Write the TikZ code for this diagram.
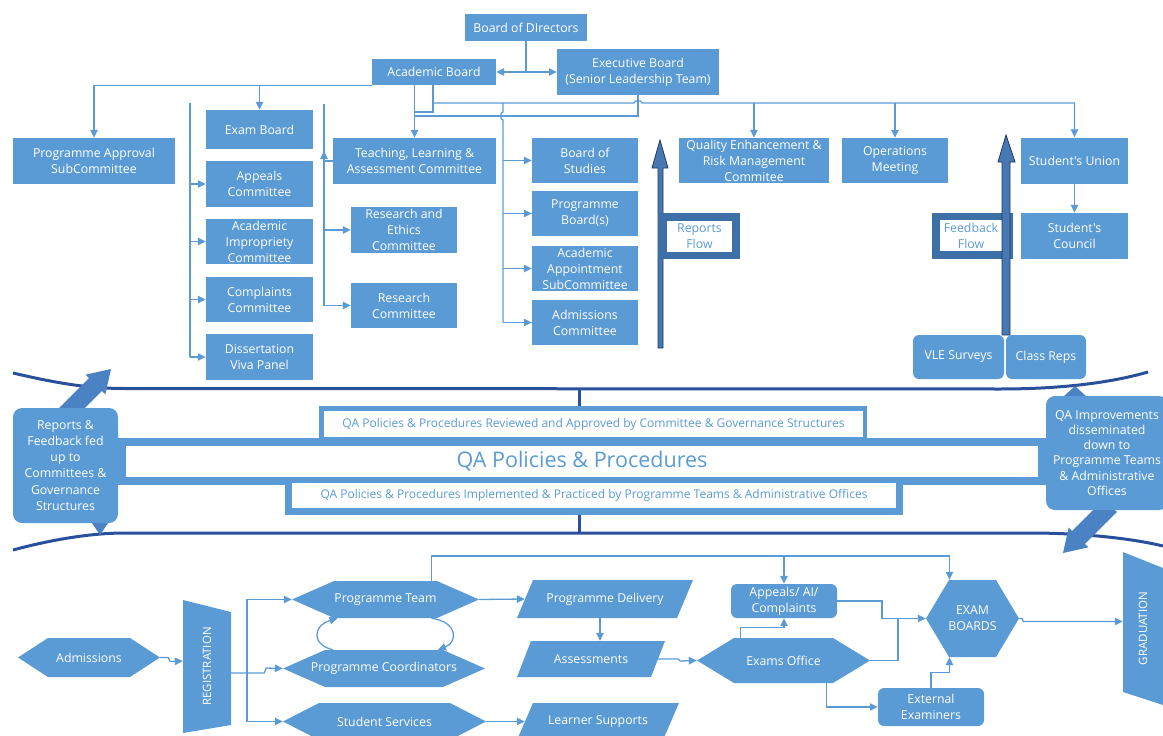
\documentclass[tikz,border=0pt]{standalone}
\usepackage{fontspec}
\setmainfont{Open Sans}[Ligatures=TeXOff]
\usepackage{graphicx}
\usetikzlibrary{arrows.meta}
\definecolor{mblue}{RGB}{91,155,213}
\definecolor{navy}{RGB}{40,80,155}
\definecolor{fatblue}{RGB}{75,130,195}
\definecolor{flowfill}{RGB}{70,120,180}
\definecolor{flowedge}{RGB}{35,55,95}
\definecolor{frameblue}{RGB}{62,112,168}
\tikzset{
  lab/.style={font=\fontsize{12.3}{16}\selectfont},
  box/.style={fill=mblue, text=white, align=center, inner sep=0pt, lab},
  rbox/.style={box, rounded corners=6pt},
  callout/.style={box, rounded corners=9pt},
  conn/.style={draw=mblue, line width=1.3pt},
  arr/.style={conn, -{Triangle[length=8pt,width=7.5pt]}},
  curve/.style={draw=navy, line width=3pt},
  qatext/.style={fill=white, text=mblue, inner sep=0pt, font=\fontsize{12}{14}\selectfont},
  hexa/.style={text=white, align=center, inner sep=0pt, lab,
    path picture={\fill[mblue] (path picture bounding box.west)
      -- ([xshift=#1]path picture bounding box.north west)
      -- ([xshift=-#1]path picture bounding box.north east)
      -- (path picture bounding box.east)
      -- ([xshift=-#1]path picture bounding box.south east)
      -- ([xshift=#1]path picture bounding box.south west) -- cycle;}},
  para/.style={text=white, align=center, inner sep=0pt, lab,
    path picture={\fill[mblue] (path picture bounding box.south west)
      -- ([xshift=-#1]path picture bounding box.south east)
      -- (path picture bounding box.north east)
      -- ([xshift=#1]path picture bounding box.north west) -- cycle;}},
  regq/.style={text=white, inner sep=0pt, font=\fontsize{11.5}{14}\selectfont,
    path picture={\fill[mblue] (path picture bounding box.north west)
      -- ([yshift=-12]path picture bounding box.north east)
      -- ([yshift=8]path picture bounding box.south east)
      -- (path picture bounding box.south west) -- cycle;}},
  gradq/.style={text=white, inner sep=0pt, font=\fontsize{11.5}{14}\selectfont,
    path picture={\fill[mblue] (path picture bounding box.north west)
      -- ([yshift=-16]path picture bounding box.north east)
      -- (path picture bounding box.south east)
      -- ([yshift=13]path picture bounding box.south west) -- cycle;}},
}
\begin{document}
\begin{tikzpicture}[x=1pt,y=-1pt]
\useasboundingbox (0,0) rectangle (1163,736);

% ---------- top governance structure ----------
\node[box, minimum width=122pt, minimum height=27pt] (bod) at (526,27.5) {Board of DIrectors};
\node[box, minimum width=124pt, minimum height=26pt] (ab) at (434,72) {Academic Board};
\node[box, minimum width=162pt, minimum height=46pt] (eb) at (638,72) {Executive Board\\(Senior Leadership Team)};

\node[box, minimum width=162pt, minimum height=46pt] (pa) at (94,161) {Programme Approval\\SubCommittee};
\node[box, minimum width=107pt, minimum height=39pt] (exb) at (259.5,129.5) {Exam Board};
\node[box, minimum width=107pt, minimum height=46pt] (appc) at (259.5,184) {Appeals\\Committee};
\node[box, minimum width=107pt, minimum height=45pt] (aic) at (259.5,241.5) {Academic\\Impropriety\\Committee};
\node[box, minimum width=107pt, minimum height=45pt] (cc) at (259.5,299.5) {Complaints\\Committee};
\node[box, minimum width=107pt, minimum height=46pt] (dvp) at (259.5,357) {Dissertation\\Viva Panel};
\node[box, minimum width=163pt, minimum height=46pt] (tla) at (414.5,161) {Teaching, Learning \&\\Assessment Committee};
\node[box, minimum width=106pt, minimum height=46pt] (re) at (404,230) {Research and\\Ethics\\Committee};
\node[box, minimum width=106pt, minimum height=45pt] (rc) at (404,305.5) {Research\\Committee};
\node[box, minimum width=106pt, minimum height=45pt] (bos) at (585,160.5) {Board of\\Studies};
\node[box, minimum width=106pt, minimum height=45pt] (pb) at (585,213.5) {Programme\\Board(s)};
\node[box, minimum width=106pt, minimum height=45pt] (aa) at (585,268.5) {Academic\\Appointment\\SubCommittee};
\node[box, minimum width=106pt, minimum height=45pt] (ac) at (585,322.5) {Admissions\\Committee};
\node[box, minimum width=150pt, minimum height=45pt] (qe) at (754,160.5) {Quality Enhancement \&\\Risk Management\\Commitee};
\node[box, minimum width=106pt, minimum height=45pt] (ops) at (895,160.5) {Operations\\Meeting};
\node[box, minimum width=107pt, minimum height=46pt] (su) at (1074.5,160.5) {Student's Union};
\node[box, minimum width=107pt, minimum height=46pt] (sc) at (1074.5,236) {Student's\\Council};
\node[rbox, minimum width=91pt, minimum height=44pt] (vle) at (958.5,357) {VLE Surveys};
\node[rbox, minimum width=80pt, minimum height=44pt] (cr) at (1046,357) {Class Reps};

% connectors top
\draw[conn] (bod.south) -- (bod.south |- ab.east) coordinate (j1);
\draw[arr] (j1) -- (ab.east);
\draw[arr] (j1) -- (eb.west);
\draw[arr] (ab.south west) -| (pa.north);
\draw[arr] (ab.south west -| exb.north) -- (exb.north);
\draw[arr] (ab.south -| tla.north) -- (tla.north);
\coordinate (abr) at (433,85);
\coordinate (L103) at (0,103);
\draw[conn] (abr) -- (433,112) -- (414.5,112);
\draw[arr] (433,103) -- (634,103) to[out=90,in=90] (642,103) -- (su.north |- L103) -- (su.north);
\draw[arr] (qe.north |- L103) -- (qe.north);
\draw[arr] (ops.north |- L103) -- (ops.north);
\draw[conn] (eb.south) -- (638,116) -- (414.5,116);
\coordinate (V503) at (503,103);
\draw[conn] (V503) -- (503,112) to[out=180,in=180] (503,120) -- (503,322.5);
\draw[arr] (bos.west -| V503) -- (bos.west);
\draw[arr] (pb.west -| V503) -- (pb.west);
\draw[arr] (aa.west -| V503) -- (aa.west);
\draw[arr] (ac.west -| V503) -- (ac.west);
\coordinate (V190) at (190,103);
\draw[conn] (V190) -- (190,357);
\draw[arr] (appc.west -| V190) -- (appc.west);
\draw[arr] (aic.west -| V190) -- (aic.west);
\draw[arr] (cc.west -| V190) -- (cc.west);
\draw[arr] (dvp.west -| V190) -- (dvp.west);
\coordinate (V324) at (324,104);
\draw[arr] (V324) |- (rc.west);
\draw[arr] (re.west -| V324) -- (re.west);
\draw[arr] (tla.west) -- (tla.west -| V324) -- ++(0,-10);
\draw[arr] (su.south) -- (sc.north);

% flow arrows
\draw[flowedge, fill=flowfill, line width=0.8pt] (658,348) -- (658,168) -- (652,168) -- (660,140) -- (668,168) -- (663,168) -- (663,348) -- cycle;
\fill[frameblue] (658,213) rectangle (740,259);
\node[fill=white, minimum width=65pt, minimum height=31pt, inner sep=0pt, text=mblue, align=center, lab] (rflow) at (699.5,236.5) {Reports\\Flow};
\fill[frameblue] (932,213) rectangle (1013,259);
\node[fill=white, minimum width=62pt, minimum height=31pt, inner sep=0pt, text=mblue, align=center, lab] (fflow) at (971,235.5) {Feedback\\Flow};
\draw[flowedge, fill=flowfill, line width=0.8pt] (1002,335) -- (1002,162) -- (998,162) -- (1006,135) -- (1015,162) -- (1010,162) -- (1010,335) -- cycle;

% ---------- middle band ----------
\draw[curve] (13,373) .. controls (60,384) and (90,388.5) .. (125,388.5) -- (1000,389) .. controls (1060,389) and (1110,383) .. (1148,372);
\draw[curve] (13,550) .. controls (50,540) and (90,533) .. (125,533) -- (1030,533) .. controls (1080,533) and (1130,538) .. (1163,546);
\draw[curve] (579,389) -- (579,408);
\draw[curve] (579,514) -- (579,533);
\fill[mblue] (319,406) rectangle (867,441);
\fill[mblue] (118,438) rectangle (1047,485);
\fill[mblue] (285,477) rectangle (903,515);
\node[qatext, minimum width=539pt, minimum height=26pt] (qa1) at (593.5,424) {QA Policies \& Procedures Reviewed and Approved by Committee \& Governance Structures};
\node[fill=white, text=mblue, inner sep=0pt, font=\fontsize{21.5}{24}\selectfont, minimum width=912pt, minimum height=31pt] (qa2) at (582,461.5) {QA Policies \& Procedures};
\node[qatext, minimum width=604pt, minimum height=25pt] (qa3) at (594,495.5) {QA Policies \& Procedures Implemented \& Practiced by Programme Teams \& Administrative Offices};

% callouts
\fill[fatblue] (57.2,410) -- (89,378.2) -- (85.5,374.7) -- (111,369) -- (105.3,394.5) -- (101.8,391) -- (70,422.8) -- cycle;
\fill[fatblue] (90,520) -- (110,520) -- (100,535) -- cycle;
\node[callout, minimum width=105pt, minimum height=115pt, font=\fontsize{12.3}{16.1}\selectfont] (rep) at (65.5,465.5) {Reports \&\\Feedback fed\\up to\\Committees \&\\Governance\\Structures};
\fill[fatblue] (1104,499.2) -- (1072.2,531) -- (1068.7,527.5) -- (1063,553) -- (1088.5,547.3) -- (1085,543.8) -- (1116.8,512) -- cycle;
\fill[fatblue] (1062,398) -- (1088,398) -- (1075,386) -- cycle;
\node[callout, minimum width=122pt, minimum height=114pt, font=\fontsize{12.3}{15.1}\selectfont] (qai) at (1107,453) {QA Improvements\\disseminated\\down to\\Programme Teams\\\& Administrative\\Offices};

% ---------- bottom process ----------
\node[hexa=30, minimum width=142pt, minimum height=39pt] (adm) at (89,657.5) {Admissions};
\node[regq, minimum width=48pt, minimum height=133pt] (reg) at (207,666.5) {\rotatebox{90}{REGISTRATION}};
\node[hexa=42, minimum width=187pt, minimum height=37pt] (pt) at (385.5,599.5) {Programme Team};
\node[hexa=42, minimum width=202pt, minimum height=37pt] (pc) at (384,668.5) {Programme Coordinators};
\node[hexa=36, minimum width=203pt, minimum height=37pt] (ss) at (384.5,721.5) {Student Services};
\node[para=16, minimum width=176pt, minimum height=38pt] (pd) at (605,599) {Programme Delivery};
\node[para=14, minimum width=148pt, minimum height=36pt] (as) at (591,659) {Assessments};
\node[para=16, minimum width=162pt, minimum height=37pt] (ls) at (598,721.5) {Learner Supports};
\node[hexa=37, minimum width=173pt, minimum height=45pt] (eo) at (783.5,660.5) {Exams Office};
\node[rbox, minimum width=106pt, minimum height=34pt] (apc) at (784,601) {Appeals/ AI/\\Complaints};
\node[hexa=23, minimum width=93pt, minimum height=77pt] (ebs) at (972.5,618.5) {EXAM\\BOARDS};
\node[rbox, minimum width=106pt, minimum height=38pt] (ee) at (931,707) {External\\Examiners};
\node[gradq, minimum width=40pt, minimum height=153pt] (grad) at (1143,628.5) {\rotatebox{90}{GRADUATION}};

% connectors bottom
\coordinate (T556) at (0,556);
\draw[arr] (adm.east) -- ++(8,0) -- ++(2,4) -- ([yshift=5.5]reg.west);
\draw[arr] ([yshift=-6.5]reg.east) -- ++(33,0) -- ++(2,-5) -- (pc.west);
\coordinate (V247) at (247,673);
\draw[arr] (V247) |- (pt.west);
\draw[arr] (V247) |- (ss.west);
\draw[arr] ([xshift=-51]pc.north) .. controls (312,645) and (312,626) .. ([xshift=-48]pt.south);
\draw[arr] ([xshift=46]pt.south) .. controls (458,622) and (458,642) .. ([xshift=54]pc.north);
\draw[arr] ([xshift=46]pt.north) |- ([xshift=-23]ebs.north |- T556) -- ([xshift=-23]ebs.north);
\draw[arr] (apc.north |- T556) -- (apc.north);
\draw[arr] (pt.east) -- ([xshift=8]pd.west);
\draw[arr] ([xshift=-5]pd.south) -- ([xshift=-5]pd.south |- as.north);
\draw[arr] ([xshift=-7]as.east) -- ++(20,0) -- ++(2,2) -- (eo.west);
\draw[arr] ([xshift=-43]eo.north) -- ++(0,-10) -| (apc.south);
\draw[arr] (apc.east) -- (882,601) |- (ebs.west);
\draw[conn] (eo.east) -| (898,618.5);
\draw[arr] ([xshift=43]eo.south) |- (ee.west);
\draw[arr] (ee.north) -- ++(0,-15) -| ([xshift=-23]ebs.south);
\draw[arr] (ebs.east) -- ++(3,0) -- ++(1,3) -- ([yshift=7]grad.west);
\draw[arr] (ss.east) -- ([xshift=8]ls.west);
\end{tikzpicture}
\end{document}
